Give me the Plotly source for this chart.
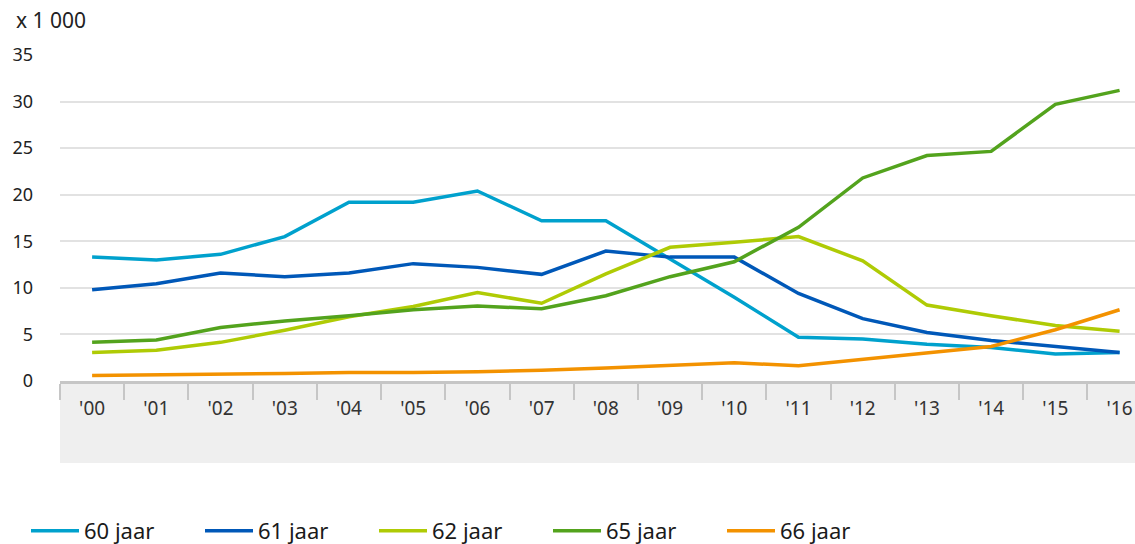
import plotly.graph_objects as go

years = ["'00", "'01", "'02", "'03", "'04", "'05", "'06", "'07", "'08",
         "'09", "'10", "'11", "'12", "'13", "'14", "'15", "'16"]

jaar60 = [13.3, 13.0, 13.6, 15.5, 19.2, 19.2, 20.4, 17.2, 17.2,
          13.1, 9.0, 4.7, 4.5, 3.95, 3.6, 2.9, 3.05]
jaar61 = [9.8, 10.45, 11.6, 11.2, 11.6, 12.6, 12.2, 11.45, 13.95,
          13.3, 13.3, 9.4, 6.7, 5.2, 4.35, 3.7, 3.05]
jaar62 = [3.05, 3.3, 4.15, 5.45, 6.9, 8.0, 9.5, 8.35, 11.5,
          14.35, 14.9, 15.5, 12.9, 8.15, 7.0, 5.95, 5.35]
jaar65 = [4.15, 4.4, 5.75, 6.45, 7.0, 7.65, 8.05, 7.75, 9.15,
          11.2, 12.8, 16.5, 21.8, 24.2, 24.65, 29.7, 31.2]
jaar66 = [0.6, 0.65, 0.7, 0.8, 0.9, 0.9, 1.0, 1.15, 1.4,
          1.65, 1.95, 1.65, 2.35, 3.05, 3.7, 5.5, 7.65]

series = [
    ("60 jaar", jaar60, "#00a1cd"),
    ("61 jaar", jaar61, "#0058b8"),
    ("62 jaar", jaar62, "#afcb05"),
    ("65 jaar", jaar65, "#53a31d"),
    ("66 jaar", jaar66, "#f39200"),
]

FONT = "Noto Sans"

fig = go.Figure()
for name, vals, col in series:
    fig.add_trace(go.Scatter(x=years, y=vals, name=name, mode="lines",
                             line=dict(color=col, width=3.5)))

fig.update_layout(
    width=1135, height=544,
    margin=dict(l=60, r=0, t=55, b=163),
    paper_bgcolor="white", plot_bgcolor="white",
    font=dict(family=FONT, size=18, color="#222222"),
    showlegend=True,
    legend=dict(orientation="h", xref="container", yref="container",
                x=26 / 1135, xanchor="left", y=1 - 531 / 544, yanchor="middle",
                font=dict(family=FONT, size=22, color="#1a1a1a"),
                itemwidth=48, entrywidth=111, entrywidthmode="pixels",
                traceorder="normal"),
    xaxis=dict(type="category", range=[-0.5, 16.24], showgrid=False,
               showline=True, linecolor="#c6c6c6", linewidth=3,
               ticks="outside", tickson="boundaries", ticklen=16,
               tickwidth=2, tickcolor="#c6c6c6", ticklabelstandoff=8,
               tickfont=dict(family=FONT, size=19, color="#333333"),
               fixedrange=True),
    yaxis=dict(range=[0, 35], dtick=5, showgrid=True, gridcolor="#e2e2e2",
               gridwidth=2, zeroline=False, showline=False, ticks="",
               ticklabelstandoff=26,
               tickfont=dict(family=FONT, size=18, color="#222222"),
               fixedrange=True),
    shapes=[dict(type="rect", xref="paper", yref="paper", x0=0, x1=1,
                 y0=-(463 - 381) / 326, y1=0, fillcolor="#efefef",
                 line=dict(width=0), layer="below")],
    annotations=[dict(text="x 1 000", xref="paper", yref="paper", x=0, y=1,
                      xanchor="left", yanchor="middle", xshift=-46, yshift=35,
                      showarrow=False,
                      font=dict(family=FONT, size=21, color="#222222"))],
)

fig.write_html("out.html",
               config={"displayModeBar": False, "staticPlot": True},
               post_script="document.body.style.margin='0';"
                           "document.body.style.overflow='hidden';")
